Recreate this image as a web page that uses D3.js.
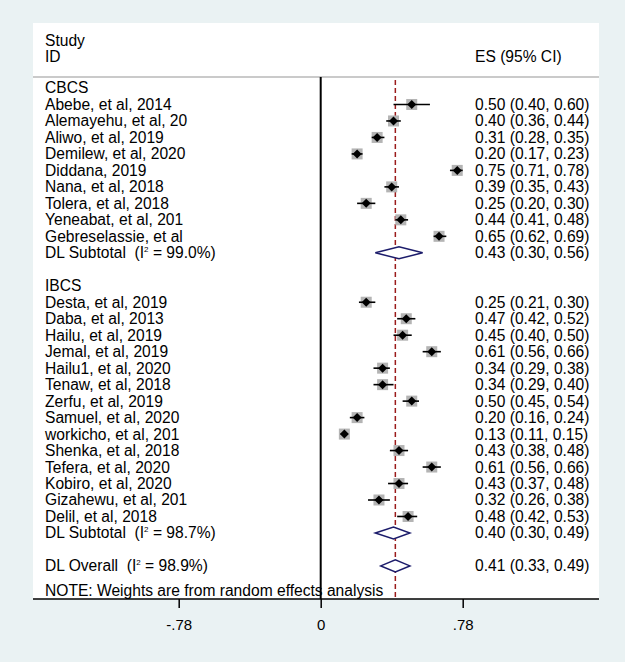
<!DOCTYPE html>
<html>
<head>
<meta charset="utf-8">
<script src="https://cdn.jsdelivr.net/npm/d3@7"></script>
<style>
  body { margin: 0; background: #eaf2f3; }
  text { font-family: "Liberation Sans", Arial, sans-serif; white-space: pre; }
</style>
</head>
<body>
<div id="forest"></div>
<script>
let svgWidth = 625;
let svgHeight = 662;

// CBCS group
let cbcsStudies = ["Abebe, et al, 2014", "Alemayehu, et al, 20", "Aliwo, et al, 2019", "Demilew, et al, 2020",
  "Diddana, 2019", "Nana, et al, 2018", "Tolera, et al, 2018", "Yeneabat, et al, 201", "Gebreselassie, et al"];
let cbcsES = [0.50, 0.40, 0.31, 0.20, 0.75, 0.39, 0.25, 0.44, 0.65];
let cbcsLow = [0.40, 0.36, 0.28, 0.17, 0.71, 0.35, 0.20, 0.41, 0.62];
let cbcsHigh = [0.60, 0.44, 0.35, 0.23, 0.78, 0.43, 0.30, 0.48, 0.69];
let cbcsSubtotal = [0.43, 0.30, 0.56];
let cbcsI2 = "99.0%";

// IBCS group
let ibcsStudies = ["Desta, et al, 2019", "Daba, et al, 2013", "Hailu, et al, 2019", "Jemal, et al, 2019",
  "Hailu1, et al, 2020", "Tenaw, et al, 2018", "Zerfu, et al, 2019", "Samuel, et al, 2020", "workicho, et al, 201",
  "Shenka, et al, 2018", "Tefera, et al, 2020", "Kobiro, et al, 2020", "Gizahewu, et al, 201", "Delil, et al, 2018"];
let ibcsES = [0.25, 0.47, 0.45, 0.61, 0.34, 0.34, 0.50, 0.20, 0.13, 0.43, 0.61, 0.43, 0.32, 0.48];
let ibcsLow = [0.21, 0.42, 0.40, 0.56, 0.29, 0.29, 0.45, 0.16, 0.11, 0.38, 0.56, 0.37, 0.26, 0.42];
let ibcsHigh = [0.30, 0.52, 0.50, 0.66, 0.38, 0.40, 0.54, 0.24, 0.15, 0.48, 0.66, 0.48, 0.38, 0.53];
let ibcsSubtotal = [0.40, 0.30, 0.49];
let ibcsI2 = "98.7%";

let overall = [0.41, 0.33, 0.49];
let overallI2 = "98.9%";

let tickValues = [-0.78, 0, 0.78];
let tickLabels = ["-.78", "0", ".78"];

let fmt = d3.format(".2f");
let ciText = v => `${fmt(v[0])} (${fmt(v[1])}, ${fmt(v[2])})`;

// build row list
let rows = [];
rows.push({ type: "group", label: "CBCS" });
cbcsStudies.forEach((s, i) => rows.push({ type: "study", label: s, v: [cbcsES[i], cbcsLow[i], cbcsHigh[i]] }));
rows.push({ type: "pooled", label: "DL Subtotal", i2: cbcsI2, v: cbcsSubtotal });
rows.push({ type: "blank" });
rows.push({ type: "group", label: "IBCS" });
ibcsStudies.forEach((s, i) => rows.push({ type: "study", label: s, v: [ibcsES[i], ibcsLow[i], ibcsHigh[i]] }));
rows.push({ type: "pooled", label: "DL Subtotal", i2: ibcsI2, v: ibcsSubtotal });
rows.push({ type: "blank" });
rows.push({ type: "pooled", label: "DL Overall", i2: overallI2, v: overall });
rows.forEach((r, i) => r.idx = i);

let panel = { left: 33, top: 23, right: 599, bottom: 599 };
let fontSize = "15.6px";

let svg = d3.select("#forest")
  .append("svg")
  .attr("width", svgWidth)
  .attr("height", svgHeight);

svg.append("rect")
  .attr("width", svgWidth).attr("height", svgHeight)
  .attr("fill", "#eaf2f3");

svg.append("rect")
  .attr("x", panel.left).attr("y", panel.top)
  .attr("width", panel.right - panel.left)
  .attr("height", panel.bottom - panel.top)
  .attr("fill", "white");

// scales
let xBase = d3.scaleLinear().domain([0, 0.78]).range([320.7, 462.7]);
let x = d3.scaleLinear()
  .domain([xBase.invert(panel.left), xBase.invert(panel.right)])
  .range([panel.left, panel.right]);

let y = d3.scaleLinear().domain([0, 30.5]).range([88, 88 + 30.5 * 16.48]);

// header
svg.append("text").attr("x", 45).attr("y", 41).attr("dy", "0.35em")
  .attr("font-size", fontSize).text("Study");
svg.append("text").attr("x", 45).attr("y", 57).attr("dy", "0.35em")
  .attr("font-size", fontSize).text("ID");
svg.append("text").attr("x", 475).attr("y", 57).attr("dy", "0.35em")
  .attr("font-size", fontSize).text("ES (95% CI)");

svg.append("line")
  .attr("x1", panel.left).attr("x2", panel.right)
  .attr("y1", 77).attr("y2", 77)
  .attr("stroke", "#b8b8b8").attr("stroke-width", 1.5);

// null line
svg.append("line")
  .attr("x1", x(0)).attr("x2", x(0))
  .attr("y1", 77).attr("y2", panel.bottom)
  .attr("stroke", "black").attr("stroke-width", 2);

// overall effect dashed line
svg.append("line")
  .attr("x1", x(overall[0])).attr("x2", x(overall[0]))
  .attr("y1", 80).attr("y2", panel.bottom)
  .attr("stroke", "#9b1c1c").attr("stroke-width", 1.5)
  .attr("stroke-dasharray", "5,3");

// left labels
let labelRows = rows.filter(r => r.type !== "blank");
let labels = svg.selectAll(".lab")
  .data(labelRows)
  .enter()
  .append("text")
  .attr("class", "lab")
  .attr("x", 45)
  .attr("y", d => y(d.idx))
  .attr("dy", "0.35em")
  .attr("font-size", fontSize)
  .attr("fill", "black");

labels.each(function(d) {
  let t = d3.select(this);
  if (d.type === "pooled") {
    t.append("tspan").text(d.label + "  (I");
    t.append("tspan").attr("font-size", "8px").attr("dy", "-6").text("2");
    t.append("tspan").attr("dy", "6").text(" = " + d.i2 + ")");
  } else {
    t.text(d.label);
  }
});

// right labels
svg.selectAll(".es")
  .data(rows.filter(r => r.v))
  .enter()
  .append("text")
  .attr("class", "es")
  .attr("x", 475)
  .attr("y", d => y(d.idx))
  .attr("dy", "0.35em")
  .attr("font-size", fontSize)
  .attr("fill", "black")
  .text(d => ciText(d.v));

// study markers
let studies = rows.filter(r => r.type === "study");

svg.selectAll(".box")
  .data(studies)
  .enter()
  .append("rect")
  .attr("x", d => x(d.v[0]) - 5.5)
  .attr("y", d => y(d.idx) - 5.5)
  .attr("width", 11).attr("height", 11)
  .attr("fill", "#b4b4b4");

svg.selectAll(".ci")
  .data(studies)
  .enter()
  .append("line")
  .attr("x1", d => x(d.v[1]))
  .attr("x2", d => x(d.v[2]))
  .attr("y1", d => y(d.idx))
  .attr("y2", d => y(d.idx))
  .attr("stroke", "black")
  .attr("stroke-width", 1.6);

svg.selectAll(".pt")
  .data(studies)
  .enter()
  .append("path")
  .attr("d", d => {
    let cx = x(d.v[0]), cy = y(d.idx);
    return `M${cx - 4.5},${cy} L${cx},${cy - 4.5} L${cx + 4.5},${cy} L${cx},${cy + 4.5} Z`;
  })
  .attr("fill", "black");

// pooled diamonds
svg.selectAll(".diamond")
  .data(rows.filter(r => r.type === "pooled"))
  .enter()
  .append("path")
  .attr("d", d => {
    let cy = y(d.idx);
    return `M${x(d.v[1])},${cy} L${x(d.v[0])},${cy - 6} L${x(d.v[2])},${cy} L${x(d.v[0])},${cy + 6} Z`;
  })
  .attr("fill", "white")
  .attr("stroke", "#1c1c6b")
  .attr("stroke-width", 1.5);

// note
svg.append("text")
  .attr("x", 45).attr("y", y(30.5)).attr("dy", "0.35em")
  .attr("font-size", fontSize)
  .text("NOTE: Weights are from random effects analysis");

// axis
let bottomAxis = d3.axisBottom(x)
  .tickValues(tickValues)
  .tickSize(9)
  .tickPadding(11)
  .tickFormat((d, i) => tickLabels[i]);

let axisG = svg.append("g")
  .attr("transform", `translate(0, ${panel.bottom})`)
  .call(bottomAxis);

axisG.select(".domain")
  .attr("d", `M${panel.left},0H${panel.right}`)
  .attr("stroke", "black").attr("stroke-width", 1.5);
axisG.selectAll(".tick line").attr("stroke", "black").attr("stroke-width", 1.5);
axisG.selectAll(".tick text")
  .attr("font-size", "15px")
  .attr("font-family", "Liberation Sans, Arial, sans-serif")
  .attr("fill", "black");
</script>
</body>
</html>
